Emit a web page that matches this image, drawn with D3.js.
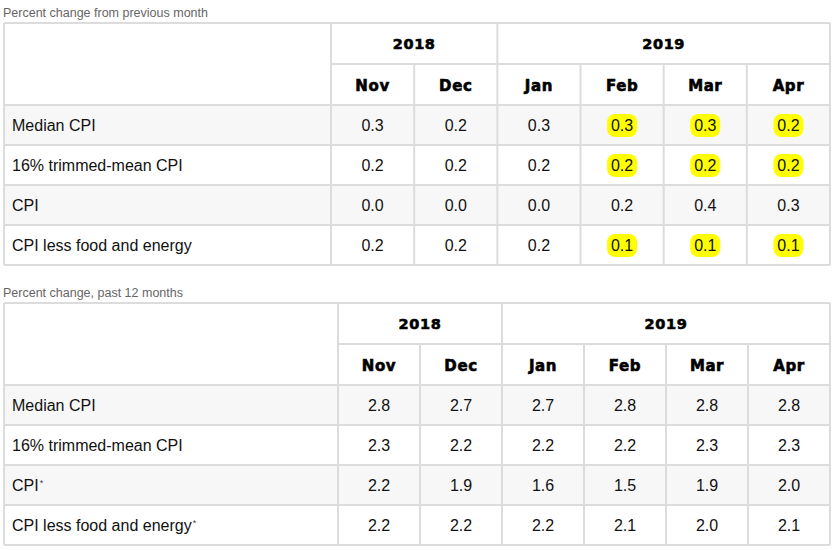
<!DOCTYPE html>
<html>
<head>
<meta charset="utf-8">
<script src="https://cdn.jsdelivr.net/npm/d3@7"></script>
<style>
  body { margin: 0; background: #fff; }
  svg { display: block; }
</style>
</head>
<body>
<svg width="834" height="550"></svg>
<script>
// table data
const years      = ["2018", "2019"];
const yearSpans  = [2, 4];
const months     = ["Nov", "Dec", "Jan", "Feb", "Mar", "Apr"];
const rowLabels  = ["Median CPI", "16% trimmed-mean CPI", "CPI", "CPI less food and energy"];
const rowNotes   = ["", "", "*", "*"];

const monthlyTitle = "Percent change from previous month";
const monthly = [
  [0.3, 0.2, 0.3, 0.3, 0.3, 0.2],
  [0.2, 0.2, 0.2, 0.2, 0.2, 0.2],
  [0.0, 0.0, 0.0, 0.2, 0.4, 0.3],
  [0.2, 0.2, 0.2, 0.1, 0.1, 0.1]
];
// cells marked in yellow
const monthlyMarked = [
  [0, 0, 0, 1, 1, 1],
  [0, 0, 0, 1, 1, 1],
  [0, 0, 0, 0, 0, 0],
  [0, 0, 0, 1, 1, 1]
];

const yearlyTitle = "Percent change, past 12 months";
const yearly = [
  [2.8, 2.7, 2.7, 2.8, 2.8, 2.8],
  [2.3, 2.2, 2.2, 2.2, 2.3, 2.3],
  [2.2, 1.9, 1.6, 1.5, 1.9, 2.0],
  [2.2, 2.2, 2.2, 2.1, 2.0, 2.1]
];

const svg = d3.select("svg");
const lineColor = "#dcdcdc";
const bodyFont = "Liberation Sans, Arial, sans-serif";
const headFont = "DejaVu Sans, Verdana, sans-serif";

function drawTable(opt) {
  const g = svg.append("g");
  const left = 4, right = 830;

  // header rows + data rows
  const yHead = d3.scaleBand().domain([0, 1]).range([opt.top, opt.top + 82]);
  const yRow  = d3.scaleBand().domain(d3.range(rowLabels.length))
                  .range([opt.top + 82, opt.top + 82 + 40 * rowLabels.length]);
  const x     = d3.scaleBand().domain(months).range([opt.split, right]);
  const bottom = yRow.range()[1];

  g.append("text")
    .attr("x", 3).attr("y", opt.top - 6)
    .style("font-family", bodyFont).style("font-size", "12.5px")
    .style("fill", "#666")
    .text(opt.title);

  // zebra rows
  g.selectAll(".band")
    .data(d3.range(rowLabels.length).filter(i => i % 2 === 0))
    .enter().append("rect")
      .attr("x", left).attr("width", right - left)
      .attr("y", d => yRow(d)).attr("height", yRow.bandwidth())
      .style("fill", "#f7f7f7");

  // marked cells
  if (opt.marked) {
    const cells = [];
    opt.marked.forEach((r, i) => r.forEach((m, j) => { if (m) cells.push({i, j}); }));
    g.selectAll(".mark")
      .data(cells)
      .enter().append("rect")
        .attr("x", d => x(months[d.j]) + x.bandwidth() / 2 - 15)
        .attr("y", d => yRow(d.i) + yRow.bandwidth() / 2 - 11)
        .attr("width", 30).attr("height", 23)
        .attr("rx", 8)
        .style("fill", "#ffff00");
  }

  // grid lines
  const lines = [];
  lines.push([left, opt.top, right, opt.top]);
  lines.push([opt.split, yHead(1), right, yHead(1)]);
  d3.range(rowLabels.length).forEach(i => lines.push([left, yRow(i), right, yRow(i)]));
  lines.push([left, bottom, right, bottom]);
  lines.push([left, opt.top, left, bottom]);
  lines.push([right, opt.top, right, bottom]);
  lines.push([opt.split, opt.top, opt.split, bottom]);
  months.forEach((m, j) => {
    if (j === 0) return;
    const top = j === yearSpans[0] ? opt.top : yHead(1);
    lines.push([x(m), top, x(m), bottom]);
  });
  g.selectAll(".grid")
    .data(lines)
    .enter().append("line")
      .attr("x1", d => d[0]).attr("y1", d => d[1])
      .attr("x2", d => d[2]).attr("y2", d => d[3])
      .style("stroke", lineColor).style("stroke-width", 2);

  // year headers
  let start = 0;
  const yearPos = years.map((yr, k) => {
    const x0 = x(months[start]);
    start += yearSpans[k];
    const x1 = start < months.length ? x(months[start]) : right;
    return {yr, cx: (x0 + x1) / 2};
  });
  g.selectAll(".year")
    .data(yearPos)
    .enter().append("text")
      .attr("x", d => d.cx)
      .attr("y", yHead(0) + yHead.bandwidth() / 2 + 5)
      .attr("text-anchor", "middle")
      .style("font-family", headFont).style("font-size", "14.5px")
      .style("font-weight", "bold").style("fill", "#000")
      .style("stroke", "#000").style("stroke-width", 0.6)
      .style("letter-spacing", "0.6px")
      .text(d => d.yr);

  g.selectAll(".month")
    .data(months)
    .enter().append("text")
      .attr("x", d => x(d) + x.bandwidth() / 2)
      .attr("y", yHead(1) + yHead.bandwidth() / 2 + 6)
      .attr("text-anchor", "middle")
      .style("font-family", headFont).style("font-size", "15px")
      .style("font-weight", "bold").style("fill", "#000")
      .style("stroke", "#000").style("stroke-width", 0.6)
      .style("letter-spacing", "0.6px")
      .text(d => d);

  // row labels
  const labels = g.selectAll(".label")
    .data(rowLabels)
    .enter().append("text")
      .attr("x", 12)
      .attr("y", (d, i) => yRow(i) + yRow.bandwidth() / 2 + 6)
      .style("font-family", bodyFont).style("font-size", "16px")
      .style("fill", "#111");
  labels.append("tspan").text(d => d);
  if (opt.notes) {
    labels.append("tspan")
      .attr("dx", 1).attr("dy", -5)
      .style("font-size", "9px")
      .style("fill", "#444")
      .text((d, i) => rowNotes[i]);
  }

  // values
  const vals = [];
  opt.values.forEach((r, i) => r.forEach((v, j) => vals.push({i, j, v})));
  g.selectAll(".val")
    .data(vals)
    .enter().append("text")
      .attr("x", d => x(months[d.j]) + x.bandwidth() / 2)
      .attr("y", d => yRow(d.i) + yRow.bandwidth() / 2 + 6)
      .attr("text-anchor", "middle")
      .style("font-family", bodyFont).style("font-size", "16px")
      .style("fill", "#111")
      .text(d => d3.format(".1f")(d.v));
}

drawTable({title: monthlyTitle, top: 23, split: 331, values: monthly, marked: monthlyMarked});
drawTable({title: yearlyTitle, top: 303, split: 338, values: yearly, notes: true});
</script>
</body>
</html>
